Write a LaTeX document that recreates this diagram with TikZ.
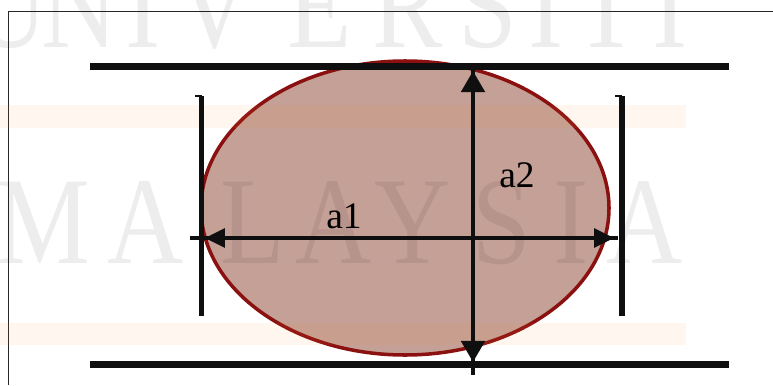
\documentclass[tikz,border=0pt]{standalone}
\usepackage{fontspec}
\setmainfont{Liberation Serif}
\usetikzlibrary{arrows.meta,shapes.geometric}
\definecolor{blobfill}{HTML}{C4A096}
\definecolor{blobedge}{HTML}{8B1010}
\definecolor{bandorange}{HTML}{FF8C3C}
\definecolor{framegrey}{gray}{0.15}
\definecolor{inkblack}{gray}{0.06}
\tikzset{
  fig/.style={x=0.03cm,y=-0.03cm},
  frameln/.style={framegrey,line width=1.5pt},
  rail/.style={inkblack,line width=6pt},
  bar/.style={inkblack,line width=5pt},
  hook/.style={inkblack,line width=2pt},
  axis/.style={inkblack,line width=3.3pt},
  hdim/.style={axis,{Triangle[length=17pt,width=16pt]}-{Triangle[length=17pt,width=16pt]}},
  vdim/.style={axis,{Triangle[length=18pt,width=20pt]}-{Triangle[length=18pt,width=20pt]}},
  blob/.style={ellipse,draw=blobedge,fill=blobfill,line width=3pt,inner sep=0pt,
               minimum width=12.24cm,minimum height=8.82cm},
  lbl/.style={font=\fontsize{32}{36}\selectfont,inner sep=0pt,anchor=base},
  wmark/.style={font=\fontsize{106}{106}\selectfont,inner sep=0pt,anchor=base,
                xscale=0.85,text=black,text opacity=0.07},
  band/.style={fill=bandorange,fill opacity=0.08},
}
\begin{document}
\begin{tikzpicture}[fig]
\useasboundingbox (0,0) rectangle (773,385);

\coordinate (fr1) at (8.5,385);
\coordinate (fr2) at (8.5,11.5);
\coordinate (fr3) at (773,11.5);
\draw[frameln] (fr1) -- (fr2) -- (fr3);

\node[blob] (disc) at (405,208) {};

% watermark behind the drawing
\foreach \ch/\cx in {U/10,N/80,I/143,V/215,E/320,R/408,S/488,I/546,T/607,I/670}
  \node[wmark] (top\cx) at (\cx,47) {\ch};
\foreach \ch/\cx in {M/43,A/146,L/253,A/334,Y/413,S/502,I/571,A/645}
  \node[wmark] (mid\cx) at (\cx,263) {\ch};
\fill[band] (0,105) rectangle (686,128);
\fill[band] (0,323) rectangle (686,345);

\coordinate (rtl) at (90,66.5);
\coordinate (rtr) at (729,66.5);
\coordinate (rbl) at (90,364.5);
\coordinate (rbr) at (729,364.5);
\draw[rail] (rtl) -- (rtr);
\draw[rail] (rbl) -- (rbr);

\coordinate (lbt) at (201.5,96);
\coordinate (lbb) at (201.5,316);
\coordinate (rbt) at (622,96);
\coordinate (rbb) at (622,316);
\draw[bar] (lbt) -- (lbb);
\draw[bar] (rbt) -- (rbb);
\draw[hook] (lbt) -- ++(-7,0);
\draw[hook] (rbt) -- ++(-7,0);

\coordinate (h0) at (190,238);
\coordinate (h1) at (205,238);
\coordinate (h2) at (614,238);
\coordinate (h3) at (618,238);
\draw[axis] (h0) -- (h3);
\draw[hdim] (h1) -- (h2);

\coordinate (v0) at (473,66);
\coordinate (v1) at (473,71);
\coordinate (v2) at (473,362);
\coordinate (v3) at (473,375);
\draw[axis] (v0) -- (v3);
\draw[vdim] (v1) -- (v2);

\node[lbl] (la1) at (344,228) {a1};
\node[lbl] (la2) at (517,187) {a2};

\end{tikzpicture}
\end{document}
